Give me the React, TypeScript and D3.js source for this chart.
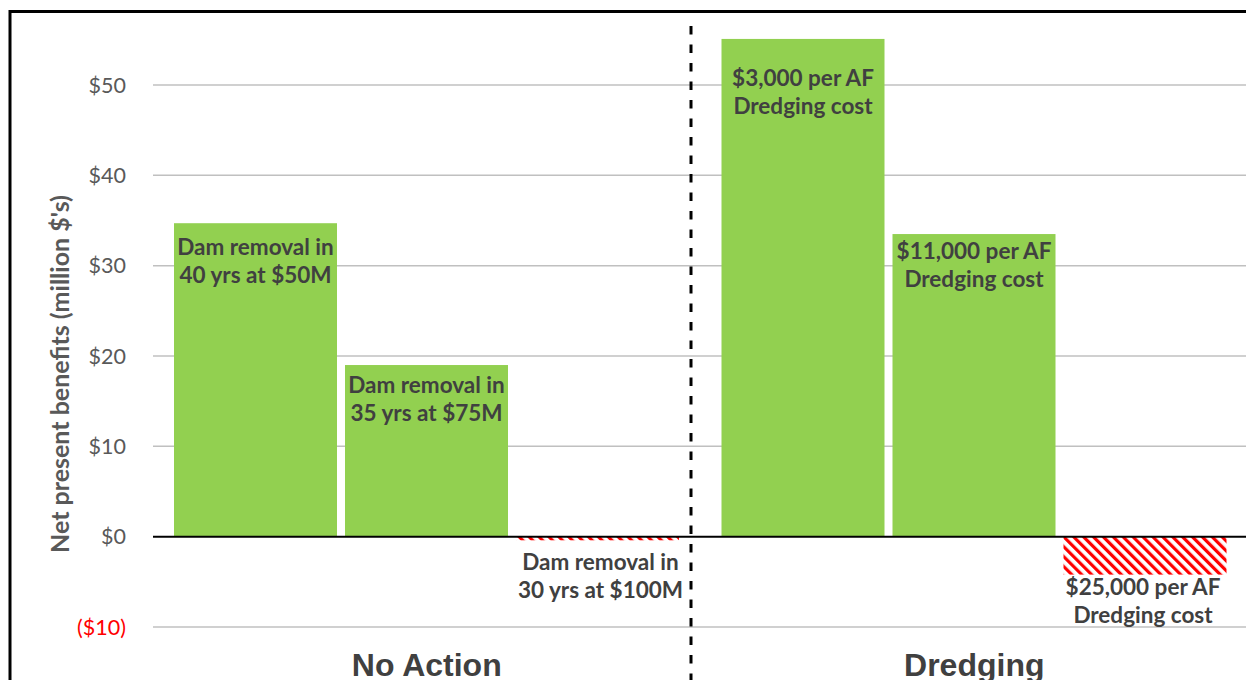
import React from "react";
import * as d3 from "d3";

const groups = ["No Action", "Dredging"];
const barKeys = ["a", "b", "c"];
const noActionValues = [34.7, 19.0, -0.4];
const dredgingValues = [55.1, 33.5, -4.2];
const noActionLabels = [
  ["Dam removal in", "40 yrs at $50M"],
  ["Dam removal in", "35 yrs at $75M"],
  ["Dam removal in", "30 yrs at $100M"],
];
const dredgingLabels = [
  ["$3,000 per AF", "Dredging cost"],
  ["$11,000 per AF", "Dredging cost"],
  ["$25,000 per AF", "Dredging cost"],
];
const yTicks = [-10, 0, 10, 20, 30, 40, 50];
const yTitle = "Net present benefits (million $'s)";

// layout (not data)
const W = 1246;
const H = 680;
const labelDy = [[24, 20, 22], [39, 17, 13]];
const labelDx = [[0, 0, 3], [0, 0, -2]];

const fmtTick = (v: number) => (v < 0 ? `($${Math.abs(v)})` : `$${v}`);

export default function App() {
  const y = d3.scaleLinear().domain([-10, 50]).range([627, 85]);
  const gx = d3.scaleBand().domain(groups).range([153, 153 + 1095]);
  const inner = d3
    .scaleBand()
    .domain(barKeys)
    .range([21, 547.5 - 21.5])
    .paddingInner(8 / 171);

  const series = [noActionValues, dredgingValues];
  const labels = [noActionLabels, dredgingLabels];
  const labelFont = "Lato, 'Open Sans', sans-serif";

  return (
    <svg
      width={W}
      height={H}
      style={{ position: "absolute", left: 0, top: 0, background: "#fff" }}
    >
      <defs>
        <pattern
          id="hatch"
          width="7"
          height="7"
          patternUnits="userSpaceOnUse"
          patternTransform="rotate(-45)"
        >
          <rect width="7" height="7" fill="#fff" />
          <rect width="3.2" height="7" fill="#ff0000" />
        </pattern>
      </defs>
      <rect x={0} y={0} width={W} height={H} fill="#fff" />
      <rect
        x={10}
        y={11.5}
        width={W + 20}
        height={H + 20}
        fill="none"
        stroke="#000"
        strokeWidth={3}
      />
      {/* gridlines */}
      {yTicks
        .filter((t) => t !== 0)
        .map((t) => (
          <line
            key={t}
            x1={153}
            x2={W}
            y1={y(t)}
            y2={y(t)}
            stroke="#c0c0c0"
            strokeWidth={1.5}
          />
        ))}
      {/* tick labels */}
      {yTicks.map((t) => (
        <text
          key={t}
          x={126}
          y={y(t)}
          dy="0.35em"
          textAnchor="end"
          fontFamily={labelFont}
          fontSize={21.5}
          fill={t < 0 ? "#ff0000" : "#595959"}
        >
          {fmtTick(t)}
        </text>
      ))}
      {/* axis title */}
      <text
        transform={`translate(69,374) rotate(-90)`}
        textAnchor="middle"
        fontFamily={labelFont}
        fontWeight="bold"
        fontSize={25}
        fill="#595959"
      >
        {yTitle}
      </text>
      {/* bars */}
      {groups.map((g, gi) =>
        series[gi].map((v, i) => {
          const x0 = (gx(g) as number) + (inner(barKeys[i]) as number);
          const bw = inner.bandwidth();
          const top = Math.min(y(v), y(0));
          const h = Math.abs(y(v) - y(0));
          return (
            <rect
              key={`${g}-${i}`}
              x={x0}
              y={top}
              width={bw}
              height={h}
              fill={v >= 0 ? "#92d050" : "url(#hatch)"}
            />
          );
        })
      )}
      {/* zero line */}
      <line x1={153} x2={W} y1={y(0)} y2={y(0)} stroke="#000" strokeWidth={2} />
      {/* bar labels */}
      {groups.map((g, gi) =>
        series[gi].map((v, i) => {
          const cx =
            (gx(g) as number) +
            (inner(barKeys[i]) as number) +
            inner.bandwidth() / 2 +
            labelDx[gi][i];
          const first = y(v) + labelDy[gi][i];
          return (
            <text
              key={`l-${g}-${i}`}
              textAnchor="middle"
              fontFamily={labelFont}
              fontWeight="bold"
              fontSize={22.5}
              fill="#404040"
            >
              {labels[gi][i].map((line, li) => (
                <tspan key={li} x={cx} y={first + li * 28} dy="0.35em">
                  {line}
                </tspan>
              ))}
            </text>
          );
        })
      )}
      {/* divider */}
      <line
        x1={691}
        x2={691}
        y1={26}
        y2={H}
        stroke="#000"
        strokeWidth={3}
        strokeDasharray="8.5,10"
      />
      {/* group labels */}
      {groups.map((g) => (
        <text
          key={g}
          x={(gx(g) as number) + gx.bandwidth() / 2}
          y={665}
          dy="0.35em"
          textAnchor="middle"
          fontFamily="'Liberation Sans', Arial, sans-serif"
          fontWeight="bold"
          fontSize={32}
          fill="#404040"
        >
          {g}
        </text>
      ))}
    </svg>
  );
}
